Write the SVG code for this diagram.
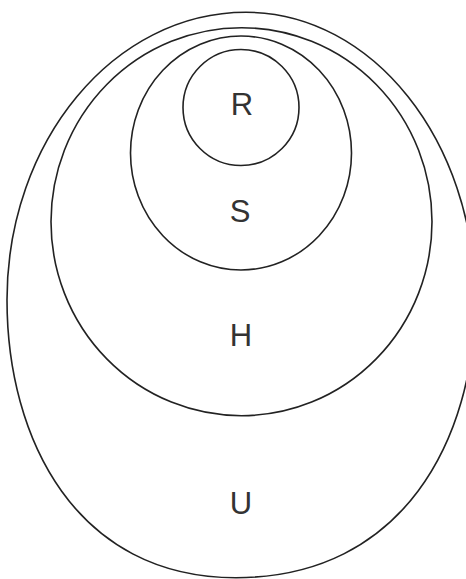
<svg xmlns="http://www.w3.org/2000/svg" width="466" height="579" viewBox="0 0 466 579">
<style>
.set{fill:none;stroke:#222;stroke-width:1.6}
.lbl{font-family:"Liberation Sans",Arial,sans-serif;font-size:31px;fill:#333;text-anchor:middle}
</style>
<rect width="466" height="579" fill="#fff"/>
<g id="U">
<path class="set" d="M 246 12.3 C 114 12.3, 7 141, 7 300 C 7 439, 76 577.7, 236 577.7 C 403 577.7, 475 439, 475 300 C 475 141, 372.5 12.3, 246 12.3 Z"/>
<text class="lbl" x="241" y="514">U</text>
</g>
<g id="H">
<ellipse class="set" cx="241.5" cy="221.7" rx="190.5" ry="194"/>
<text class="lbl" x="241" y="345.5">H</text>
</g>
<g id="S">
<ellipse class="set" cx="241" cy="153" rx="110.5" ry="117"/>
<text class="lbl" x="240" y="222">S</text>
</g>
<g id="R">
<circle class="set" cx="241" cy="107.5" r="58"/>
<text class="lbl" x="242" y="115">R</text>
</g>
</svg>
